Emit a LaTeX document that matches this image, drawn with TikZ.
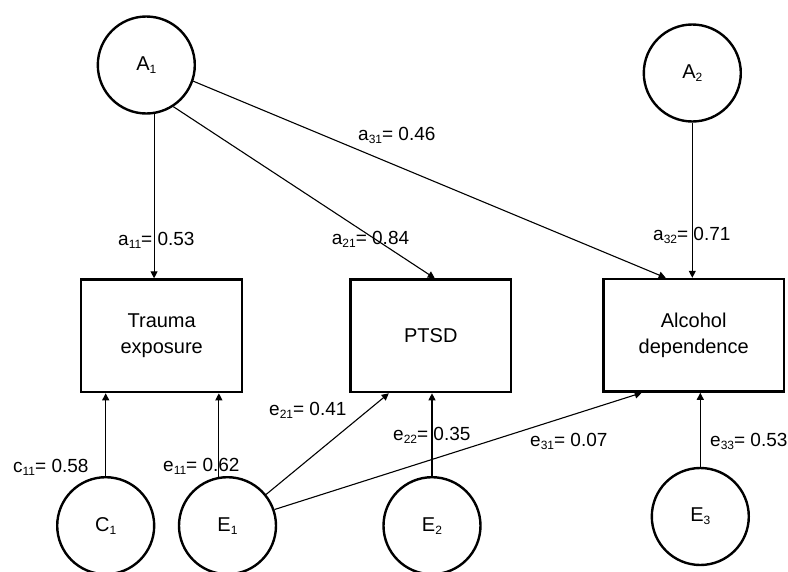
\documentclass[tikz,border=0pt]{standalone}
\usepackage{fontspec}
\setmainfont{Liberation Sans}
\usetikzlibrary{arrows.meta}
\newcommand\sbs[1]{\raisebox{-3pt}{\fontsize{12}{12}\selectfont #1}}
\begin{document}
\begin{tikzpicture}[x=1pt,y=-1pt,
  font=\fontsize{20}{26}\selectfont,
  latent/.style={circle, draw, line width=2.4pt, minimum size=97pt, inner sep=0pt},
  obs/.style={rectangle, draw, line width=2.4pt, align=center, inner sep=0pt, minimum height=112.6pt},
  arr/.style={-{Triangle[length=7pt,width=7pt]}, line width=1.1pt},
  lab/.style={anchor=base west, inner sep=0pt, font=\fontsize{19}{19}\selectfont}]
\useasboundingbox[fill=white] (0,0) rectangle (788,571);

% latent variables
\node[latent] (A1) at (146.3,65) {A\sbs{1}};
\node[latent] (A2) at (692.3,73) {A\sbs{2}};
\node[latent] (C1) at (105.7,525.7) {C\sbs{1}};
\node[latent] (E1) at (227.5,525.7) {E\sbs{1}};
\node[latent] (E2) at (432,525.7) {E\sbs{2}};
\node[latent] (E3) at (700.3,516.5) {E\sbs{3}};

% observed variables
\node[obs, minimum width=161pt] (T) at (161.7,335.8) {Trauma\\exposure};
\node[obs, minimum width=160.6pt] (P) at (430.8,335.8) {PTSD};
\node[obs, minimum width=180.3pt] (AD) at (693.7,335.3) {Alcohol\\dependence};

% paths
\draw[arr] (A1.-81) -- (A1.-81 |- T.north);
\draw[arr] (A1.-57) -- ([xshift=4pt]P.north);
\draw[arr] (A1.-19) -- ([xshift=-28pt]AD.north);
\draw[arr] (A2.south) -- (A2.south |- AD.north);
\draw[arr] (C1.north) -- (C1.north |- T.south);
\draw[arr] (E1.100) -- (E1.100 |- T.south);
\draw[arr] (E1.39) -- ([xshift=-42pt]P.south);
\draw[arr] (E1.19.5) -- ([xshift=-52pt]AD.south);
\draw[arr] (E2.north) -- (E2.north |- P.south);
\draw[arr] (E3.north) -- (E3.north |- AD.south);

% labels
\node[lab] (la11) at (118,245) {a\sbs{11}= 0.53};
\node[lab] (la21) at (331.7,244) {a\sbs{21}= 0.84};
\node[lab] (la31) at (358,140.5) {a\sbs{31}= 0.46};
\node[lab] (la32) at (653,240.7) {a\sbs{32}= 0.71};
\node[lab] (lc11) at (13,472) {c\sbs{11}= 0.58};
\node[lab] (le11) at (163,471.5) {e\sbs{11}= 0.62};
\node[lab] (le21) at (269,415.7) {e\sbs{21}= 0.41};
\node[lab] (le22) at (393,440) {e\sbs{22}= 0.35};
\node[lab] (le31) at (530,446.7) {e\sbs{31}= 0.07};
\node[lab] (le33) at (710,446.7) {e\sbs{33}= 0.53};
\end{tikzpicture}
\end{document}
